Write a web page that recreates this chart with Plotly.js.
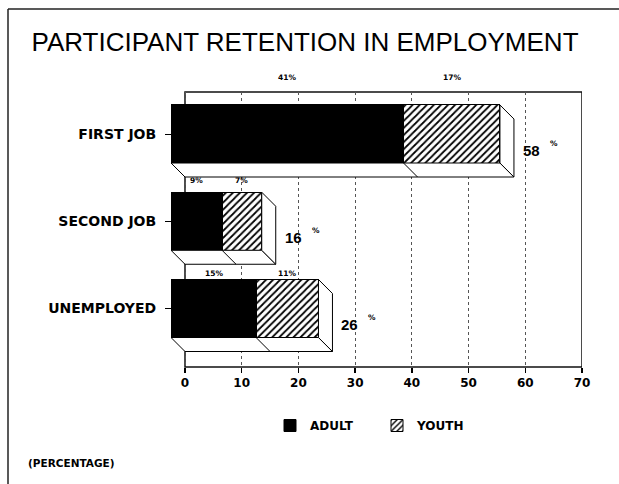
<!DOCTYPE html>
<html>
<head>
<meta charset="utf-8">
<script src="https://cdn.plot.ly/plotly-3.0.1.min.js"></script>
<style>html,body{margin:0;padding:0;background:#fff;}#chart{width:619px;height:484px;}</style>
</head>
<body>
<div id="chart"></div>
<script>
// ---- data ----
const categories = ['FIRST JOB', 'SECOND JOB', 'UNEMPLOYED'];
const adult = [41, 9, 15];
const youth = [17, 7, 11];
const adultLabels = ['41%', '9%', '15%'];
const youthLabels = ['17%', '7%', '11%'];
const totals = [58, 16, 26];
const xTicks = [0, 10, 20, 30, 40, 50, 60, 70];
const seriesNames = ['ADULT', 'YOUTH'];

// ---- layout constants ----
const W = 619, H = 484;
const M = {l: 150, r: 37, t: 92, b: 117};
const plotW = W - M.l - M.r, plotH = H - M.t - M.b;
const xZeroPx = 185;             // pixel of x=0 (back plane)
const frontPx = 171;             // pixel of front-face start
const xMax = 70;
const pxPerUnit = (W - M.r - xZeroPx) / xMax;
const depthPx = xZeroPx - frontPx;
const dx = depthPx / pxPerUnit;  // depth in x units
const rowPx = 87.25;
const dy = depthPx / rowPx;      // depth in row units
const barW = 0.665;
const yTop = -(134 - M.t) / rowPx;
const yBot = 2 + (M.t + plotH - 308.5) / rowPx;
const px2paperX = p => (p - M.l) / plotW;
const px2paperY = p => 1 - (p - M.t) / plotH;
const labelFont = 'DejaVu Sans, Arial, sans-serif';
const xDomain = [px2paperX(frontPx), 1];

const idx = categories.map((c, i) => i);

const traces = [
  // empty trace so the main (tick/grid) subplot exists
  {type: 'scatter', x: [], y: [], xaxis: 'x', yaxis: 'y', showlegend: false, hoverinfo: 'skip'},
  {type: 'bar', orientation: 'h', name: seriesNames[0], x: adult, y: idx,
   xaxis: 'x2', yaxis: 'y', width: barW,
   marker: {color: '#000', line: {color: '#000', width: 1}}, hoverinfo: 'x'},
  {type: 'bar', orientation: 'h', name: seriesNames[1], x: youth, y: idx,
   xaxis: 'x2', yaxis: 'y', width: barW,
   marker: {color: '#fff', line: {color: '#000', width: 1},
            pattern: {shape: '/', fgcolor: '#000', bgcolor: '#fff', size: 5, solidity: 0.35}},
   hoverinfo: 'x'}
];

const shapes = [];
// 3D side faces
idx.forEach(i => {
  const yt = i - barW / 2, yb = i + barW / 2, tot = adult[i] + youth[i];
  shapes.push({type: 'path', xref: 'x2', yref: 'y', layer: 'above',
    path: `M0,${yb} L${tot},${yb} L${tot + dx},${yb + dy} L${dx},${yb + dy} Z`,
    fillcolor: '#fff', line: {color: '#000', width: 1}});
  shapes.push({type: 'path', xref: 'x2', yref: 'y', layer: 'above',
    path: `M${tot},${yt} L${tot + dx},${yt + dy} L${tot + dx},${yb + dy} L${tot},${yb} Z`,
    fillcolor: '#fff', line: {color: '#000', width: 1}});
  shapes.push({type: 'line', xref: 'x2', yref: 'y', layer: 'above',
    x0: adult[i], y0: yb, x1: adult[i] + dx, y1: yb + dy,
    line: {color: '#000', width: 1}});
});
// plot frame (back plane)
shapes.push({type: 'rect', xref: 'x', yref: 'y domain', x0: 0, x1: xMax, y0: 0, y1: 1,
  line: {color: '#111', width: 1.5}, layer: 'below'});
// outer page border (top + left)
shapes.push({type: 'line', xref: 'paper', yref: 'paper',
  x0: px2paperX(8), x1: px2paperX(619), y0: px2paperY(9), y1: px2paperY(9),
  line: {color: '#222', width: 1.5}});
shapes.push({type: 'line', xref: 'paper', yref: 'paper',
  x0: px2paperX(8), x1: px2paperX(8), y0: px2paperY(9), y1: px2paperY(484),
  line: {color: '#222', width: 1.5}});

const annotations = [];
const rise = [27, 12, 6];
const smallFont = {family: labelFont, size: 7.5, color: '#000', weight: 'bold'};
idx.forEach(i => {
  const yt = i - barW / 2, tot = adult[i] + youth[i];
  annotations.push({xref: 'x2', yref: 'y', x: adult[i] / 2, y: yt, yshift: rise[i],
    text: adultLabels[i], showarrow: false, xanchor: 'center', yanchor: 'middle', font: smallFont});
  annotations.push({xref: 'x2', yref: 'y', x: adult[i] + youth[i] / 2, y: yt, yshift: rise[i],
    text: youthLabels[i], showarrow: false, xanchor: 'center', yanchor: 'middle', font: smallFont});
  annotations.push({xref: 'x2', yref: 'y', x: tot + dx, y: i + dy, xshift: 7, yshift: -2,
    text: String(totals[i]), showarrow: false, xanchor: 'left', yanchor: 'middle',
    font: {family: 'Liberation Sans, Arial, sans-serif', size: 15, color: '#000', weight: 'bold'}});
  annotations.push({xref: 'x2', yref: 'y', x: tot + dx, y: i + dy, xshift: 40, yshift: 5,
    text: '%', showarrow: false, xanchor: 'center', yanchor: 'middle', font: smallFont});
});
annotations.push({xref: 'paper', yref: 'paper', x: px2paperX(26), y: px2paperY(463),
  text: '(PERCENTAGE)', showarrow: false, xanchor: 'left', yanchor: 'middle',
  font: {family: labelFont, size: 10.5, color: '#000', weight: 'bold'}});

const layout = {
  width: W, height: H,
  margin: M,
  paper_bgcolor: '#fff', plot_bgcolor: 'rgba(0,0,0,0)',
  barmode: 'stack',
  bargap: 0,
  showlegend: true,
  title: {text: 'PARTICIPANT RETENTION IN EMPLOYMENT', xref: 'container', yref: 'container',
    x: 305 / W, xanchor: 'center', y: 1 - 42 / H, yanchor: 'middle',
    font: {family: 'Liberation Sans, Arial, sans-serif', size: 26, color: '#000'}},
  xaxis: {domain: xDomain, range: [-dx, xMax], tickvals: xTicks, anchor: 'y',
    ticktext: xTicks.map(String), ticks: 'outside', ticklen: 5, tickcolor: '#000', tickwidth: 1.5,
    showline: false, zeroline: false,
    showgrid: true, gridcolor: '#555', griddash: 'dot', gridwidth: 1,
    tickfont: {family: labelFont, size: 12, color: '#000', weight: 'bold'}, fixedrange: true},
  xaxis2: {overlaying: 'x', domain: xDomain, range: [0, xMax + dx], visible: false, fixedrange: true},
  yaxis: {range: [yBot, yTop], anchor: 'free', position: xDomain[0],
    tickvals: idx, ticktext: categories, ticks: 'outside', ticklen: 6, tickcolor: '#000',
    ticklabelstandoff: 6, showline: false, showgrid: false, zeroline: false,
    tickfont: {family: labelFont, size: 14, color: '#000', weight: 'bold'}, fixedrange: true},
  legend: {orientation: 'h', traceorder: 'normal', x: px2paperX(270), xanchor: 'left',
    y: px2paperY(411), yanchor: 'top',
    font: {family: labelFont, size: 12, color: '#000', weight: 'bold'},
    entrywidth: 62, itemwidth: 30, bgcolor: 'rgba(0,0,0,0)'},
  shapes: shapes,
  annotations: annotations
};

Plotly.newPlot('chart', traces, layout, {displayModeBar: false, staticPlot: true});
</script>
</body>
</html>
